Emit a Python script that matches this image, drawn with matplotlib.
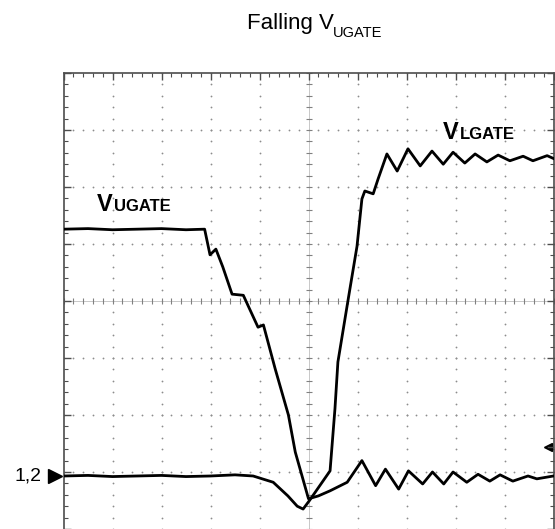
import numpy as np
import matplotlib
matplotlib.use("Agg")
import matplotlib.pyplot as plt
from matplotlib.transforms import offset_copy

plt.rcParams["font.family"] = ["Liberation Sans", "DejaVu Sans"]

# scope traces, in screen divisions (x: 0..10, y: -4..4)
ugate_x = [0, 0.5, 1.0, 1.5, 2.0, 2.5, 2.88, 2.99, 3.11, 3.25, 3.44, 3.67, 3.75, 3.97, 4.08,
           4.32, 4.59, 4.73, 5.0, 5.2, 5.44, 5.79, 6.09, 6.37, 6.57, 6.84, 7.04, 7.33, 7.53,
           7.76, 7.95, 8.23, 8.46, 8.7, 8.91, 9.17, 9.48, 9.66, 10.0]
ugate_y = [1.26, 1.27, 1.25, 1.26, 1.27, 1.25, 1.26, 0.81, 0.91, 0.6, 0.12, 0.1, -0.05, -0.46, -0.42,
           -1.19, -2.0, -2.65, -3.47, -3.42, -3.33, -3.18, -2.8, -3.24, -2.95, -3.3, -2.98, -3.21, -3.0,
           -3.21, -3.0, -3.18, -3.04, -3.16, -3.05, -3.16, -3.07, -3.12, -3.07]

lgate_x = [0, 0.5, 1.0, 1.5, 2.0, 2.5, 3.0, 3.5, 3.87, 4.28, 4.58, 4.77, 4.89, 5.02, 5.44, 5.54,
           5.6, 5.81, 5.99, 6.09, 6.15, 6.32, 6.42, 6.6, 6.81, 7.03, 7.28, 7.52, 7.75, 7.95,
           8.19, 8.4, 8.64, 8.87, 9.11, 9.38, 9.58, 9.87, 10.0]
lgate_y = [-3.07, -3.06, -3.08, -3.07, -3.06, -3.08, -3.07, -3.05, -3.07, -3.18, -3.42, -3.6, -3.65, -3.5, -2.98, -1.89,
           -1.07, 0.03, 0.96, 1.79, 1.93, 1.88, 2.14, 2.58, 2.28, 2.67, 2.37, 2.63, 2.4, 2.61,
           2.42, 2.58, 2.44, 2.56, 2.46, 2.54, 2.46, 2.55, 2.5]

ground_level = -3.07
trigger_level = -2.56

fig = plt.figure(figsize=(5.55, 5.29), dpi=100)
ax = fig.add_axes([63.5 / 555, 0, 490 / 555, 456 / 529])
ax.set_xlim(0, 10)
ax.set_ylim(-4, 4)

# graticule
fine = np.arange(0, 10.01, 0.2)
fine_y = np.arange(-4, 4.01, 0.2)
for gx in range(1, 10):
    if gx == 5:
        continue
    ax.plot([gx] * len(fine_y), fine_y, ls="none", marker="o", ms=1.3, mew=0, color="0.55", zorder=1)
for gy in range(-3, 4):
    if gy == 0:
        continue
    ax.plot(fine, [gy] * len(fine), ls="none", marker="o", ms=1.3, mew=0, color="0.55", zorder=1)
ax.axvline(5, color="0.75", lw=0.6, zorder=1)
ax.axhline(0, color="0.75", lw=0.6, zorder=1)
ax.plot([5] * len(fine_y), fine_y, ls="none", marker="_", ms=5, mew=0.8, color="0.5", zorder=1)
ax.plot(fine, [0] * len(fine), ls="none", marker="|", ms=5, mew=0.8, color="0.5", zorder=1)

ax.set_xticks(range(0, 11))
ax.set_yticks(range(-4, 5))
ax.set_xticks(fine, minor=True)
ax.set_yticks(fine_y, minor=True)
ax.tick_params(which="both", direction="in", top=True, right=True, bottom=False,
               labelbottom=False, labelleft=False, color="0.3")
ax.tick_params(which="major", length=5, width=1)
ax.tick_params(which="minor", length=3, width=0.8)
for s in ax.spines.values():
    s.set_color("0.3")
    s.set_linewidth(1.2)
ax.spines["bottom"].set_visible(False)

# traces
ax.plot(ugate_x, ugate_y, color="k", lw=2.0, solid_joinstyle="round", zorder=3)
ax.plot(lgate_x, lgate_y, color="k", lw=2.0, solid_joinstyle="round", zorder=3)

# trace labels
ax.text(0.68, 1.58, "V", fontsize=17, fontweight="bold", va="baseline", ha="left")
ax.text(0.68, 1.58, "UGATE", fontsize=12, fontweight="bold", va="baseline", ha="left",
        transform=offset_copy(ax.transData, fig=fig, x=12.5, y=0, units="points"))
ax.text(7.74, 2.84, "V", fontsize=17, fontweight="bold", va="baseline", ha="left")
ax.text(7.74, 2.84, "LGATE", fontsize=12, fontweight="bold", va="baseline", ha="left",
        transform=offset_copy(ax.transData, fig=fig, x=12.5, y=0, units="points"))

# channel ground marker and trigger marker
ax.text(-0.99, ground_level, "1,2", fontsize=14, va="center", ha="left", clip_on=False)
ax.plot([-0.17], [ground_level], marker=">", ms=10, color="k", clip_on=False)
ax.plot([9.88], [trigger_level], marker="<", ms=6, color="k", clip_on=False, zorder=4)
ax.plot([9.88, 10], [trigger_level, trigger_level], color="0.3", lw=1, zorder=4)

# title: "Falling V" with a dropped UGATE subscript
fig.text(247 / 555, 1 - 29 / 529, "Falling V", fontsize=16, ha="left", va="baseline")
fig.text(333 / 555, 1 - 37 / 529, "UGATE", fontsize=10.5, ha="left", va="baseline")

plt.savefig("out.png", dpi=100)
